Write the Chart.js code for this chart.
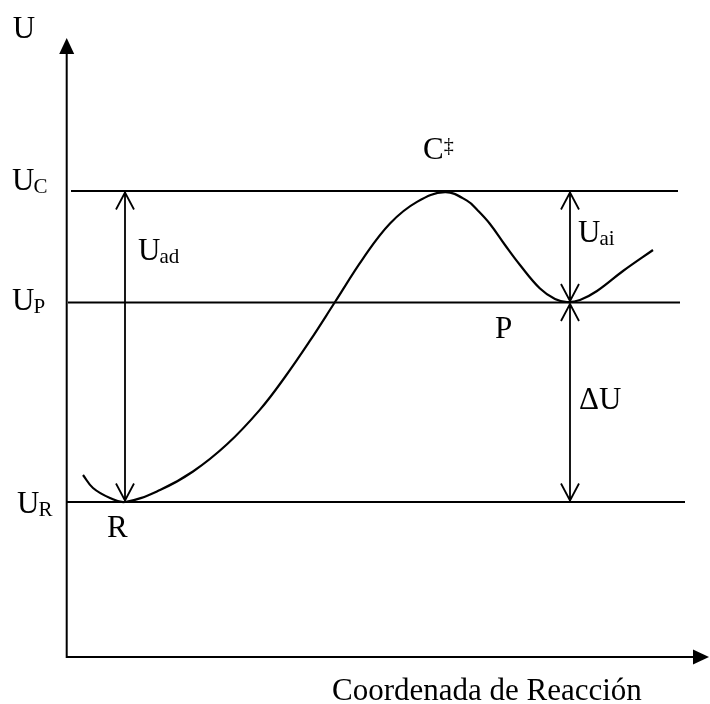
<!DOCTYPE html>
<html>
<head>
<meta charset="utf-8">
<script src="https://cdn.jsdelivr.net/npm/chart.js@4"></script>
<style>
  html, body { margin: 0; padding: 0; background: #fff; }
  #wrap { width: 710px; height: 704px; position: relative; }
</style>
</head>
<body>
<div id="wrap"><canvas id="chart"></canvas></div>
<script>
// Curva de energia potencial (coordenada de reaccion, U)
const curveX = [1.63, 2.63, 4.33, 5.83, 9.33, 12.63, 16.03, 19.33, 21.83, 24.33, 26.83, 29.63, 32.33, 35.03, 37.83, 40.03, 41.13, 42.33, 43.83, 45.33, 47.33, 48.83, 50.03, 51.33, 53.03, 55.63, 58.63];
const curveY = [18.2, 16.9, 15.9, 15.5, 16.7, 18.55, 21.27, 24.74, 28.0, 31.63, 35.5, 39.84, 43.35, 45.51, 46.48, 45.64, 44.63, 43.3, 41.2, 39.2, 36.85, 35.8, 35.5, 35.7, 36.6, 38.6, 40.7];

// Niveles U_C, U_P, U_R
const levelNames = ['UC', 'UP', 'UR'];
const levelValues = [46.6, 35.45, 15.5];
const levelStart = [0.43, 0.13, 0];
const levelEnd = [61.13, 61.33, 61.83];

// Flechas dobles (x, desde nivel, hasta nivel)
const arrowX = [5.83, 50.33, 50.33];
const arrowFrom = [46.6, 46.6, 35.45];
const arrowTo = [15.5, 35.45, 15.5];

// Ejes
const xMin = -6.67, xMax = 64.33;
const yMin = -4.7, yMax = 65.7;
const yAxisTop = 61.9;
const xAxisEnd = 64.23;

// Textos: [texto, subindice, x, y de la linea base]
const labels = [
  ['U', '', -5.4, 61.9],
  ['U', 'C', -5.47, 46.7],
  ['U', 'P', -5.47, 34.7],
  ['U', 'R', -4.97, 14.4],
  ['R', '', 4.03, 12.0],
  ['U', 'ad', 7.13, 39.7],
  ['U', 'ai', 51.13, 41.5],
  ['P', '', 42.83, 31.9],
  ['\u0394U', '', 51.23, 24.8],
  ['Coordenada de Reacci\u00f3n', '', 26.53, -4.3]
];

const serif = '"Liberation Serif", "Times New Roman", serif';

const drawingPlugin = {
  id: 'drawing',
  afterDatasetsDraw(chart) {
    const ctx = chart.ctx;
    const xs = chart.scales.x, ys = chart.scales.y;
    const px = v => xs.getPixelForValue(v);
    const py = v => ys.getPixelForValue(v);
    ctx.save();
    ctx.strokeStyle = '#000';
    ctx.fillStyle = '#000';

    // ejes
    ctx.lineWidth = 2;
    ctx.beginPath();
    ctx.moveTo(px(0), py(0));
    ctx.lineTo(px(0), py(yAxisTop) + 10);
    ctx.moveTo(px(0) - 1, py(0));
    ctx.lineTo(px(xAxisEnd) - 10, py(0));
    ctx.stroke();
    // puntas llenas
    ctx.beginPath();
    ctx.moveTo(px(0), py(yAxisTop));
    ctx.lineTo(px(0) - 7.5, py(yAxisTop) + 16);
    ctx.lineTo(px(0) + 7.5, py(yAxisTop) + 16);
    ctx.closePath();
    ctx.fill();
    ctx.beginPath();
    ctx.moveTo(px(xAxisEnd), py(0));
    ctx.lineTo(px(xAxisEnd) - 16, py(0) - 7.5);
    ctx.lineTo(px(xAxisEnd) - 16, py(0) + 7.5);
    ctx.closePath();
    ctx.fill();

    // flechas dobles
    ctx.lineWidth = 1.8;
    for (let i = 0; i < arrowX.length; i++) {
      const x = px(arrowX[i]);
      const y1 = py(arrowFrom[i]) + 1.5;
      const y2 = py(arrowTo[i]) - 1.5;
      ctx.beginPath();
      ctx.moveTo(x, y1);
      ctx.lineTo(x, y2);
      ctx.moveTo(x - 9, y1 + 17);
      ctx.lineTo(x, y1);
      ctx.lineTo(x + 9, y1 + 17);
      ctx.moveTo(x - 9, y2 - 17);
      ctx.lineTo(x, y2);
      ctx.lineTo(x + 9, y2 - 17);
      ctx.stroke();
    }

    // textos
    ctx.textBaseline = 'alphabetic';
    ctx.textAlign = 'left';
    labels.forEach(([t, sub, x, y]) => {
      ctx.font = '31px ' + serif;
      const X = px(x), Y = py(y);
      ctx.fillText(t, X, Y);
      if (sub) {
        const w = ctx.measureText(t).width;
        ctx.font = '21px ' + serif;
        ctx.fillText(sub, X + w - 1, Y + 3);
      }
    });
    // C doble daga
    ctx.font = '31px ' + serif;
    ctx.fillText('C', px(35.63), py(49.8));
    const wc = ctx.measureText('C').width;
    ctx.font = '20px ' + serif;
    ctx.fillText('\u2021', px(35.63) + wc, py(50.5));

    ctx.restore();
  }
};

const datasets = [{
  data: curveX.map((x, i) => ({ x: x, y: curveY[i] })),
  showLine: true,
  borderColor: '#000',
  borderWidth: 2.2,
  pointRadius: 0,
  tension: 0.4,
  fill: false
}];
levelValues.forEach((v, i) => {
  datasets.push({
    label: levelNames[i],
    data: [{ x: levelStart[i], y: v }, { x: levelEnd[i], y: v }],
    showLine: true,
    borderColor: '#000',
    borderWidth: 2,
    pointRadius: 0,
    fill: false
  });
});

new Chart(document.getElementById('chart'), {
  type: 'scatter',
  data: { datasets: datasets },
  options: {
    responsive: true,
    maintainAspectRatio: false,
    animation: false,
    layout: { padding: 0 },
    plugins: { legend: { display: false }, tooltip: { enabled: false } },
    scales: {
      x: { type: 'linear', display: false, min: xMin, max: xMax },
      y: { type: 'linear', display: false, min: yMin, max: yMax }
    }
  },
  plugins: [drawingPlugin]
});
</script>
</body>
</html>
